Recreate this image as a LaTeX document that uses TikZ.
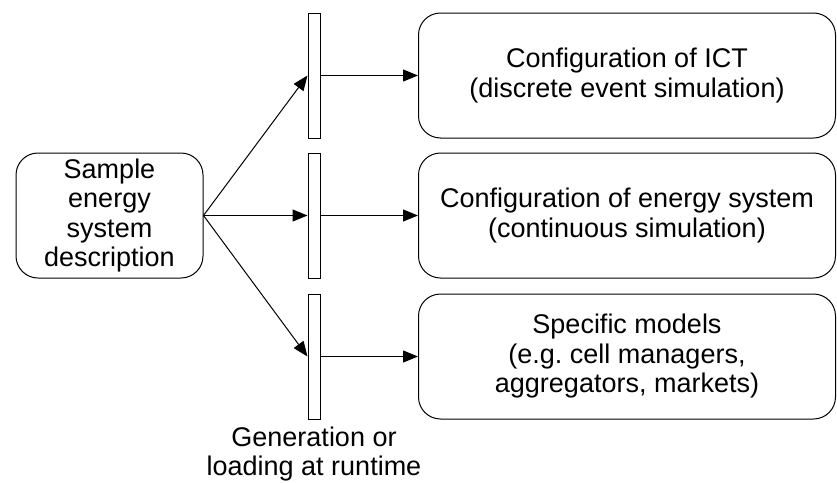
\documentclass[tikz,border=0pt]{standalone}
\usepackage{fontspec}
\setmainfont{Liberation Sans}
\usetikzlibrary{arrows.meta}
\begin{document}
\begin{tikzpicture}[x=1pt, y=-1pt, line width=1pt,
  box/.style={draw, rounded corners=22pt, align=center, inner sep=0pt, font=\fontsize{27}{29.5}\selectfont},
  bar/.style={draw, minimum width=12pt, minimum height=125pt, inner sep=0pt},
  arr/.style={-{Triangle[length=15pt,width=12pt]}}]
\useasboundingbox (0,0) rectangle (837,482);
\node[box, minimum width=187pt, minimum height=125pt] (desc) at (109.5,215.5) {Sample\\energy\\system\\description};
\node[bar] (b1) at (314,75.5) {};
\node[bar] (b2) at (314,215.5) {};
\node[bar] (b3) at (314,356.5) {};
\node[box, minimum width=417pt, minimum height=125pt] (ict) at (627,75.5) {Configuration of ICT\\(discrete event simulation)};
\node[box, minimum width=417pt, minimum height=125pt] (ens) at (627,215.5) {Configuration of energy system\\(continuous simulation)};
\node[box, minimum width=417pt, minimum height=125pt] (mod) at (627,356.5) {Specific models\\(e.g.\ cell managers,\\aggregators, markets)};
\node[align=center, font=\fontsize{27}{29}\selectfont, anchor=north, inner sep=0pt] (gen) at (314,426) {Generation or\\loading at runtime};
\draw[arr] (desc.east) -- (b1.west);
\draw[arr] (desc.east) -- (b2.west);
\draw[arr] (desc.east) -- (b3.west);
\draw[arr] (b1.east) -- (ict.west);
\draw[arr] (b2.east) -- (ens.west);
\draw[arr] (b3.east) -- (mod.west);
\end{tikzpicture}
\end{document}
